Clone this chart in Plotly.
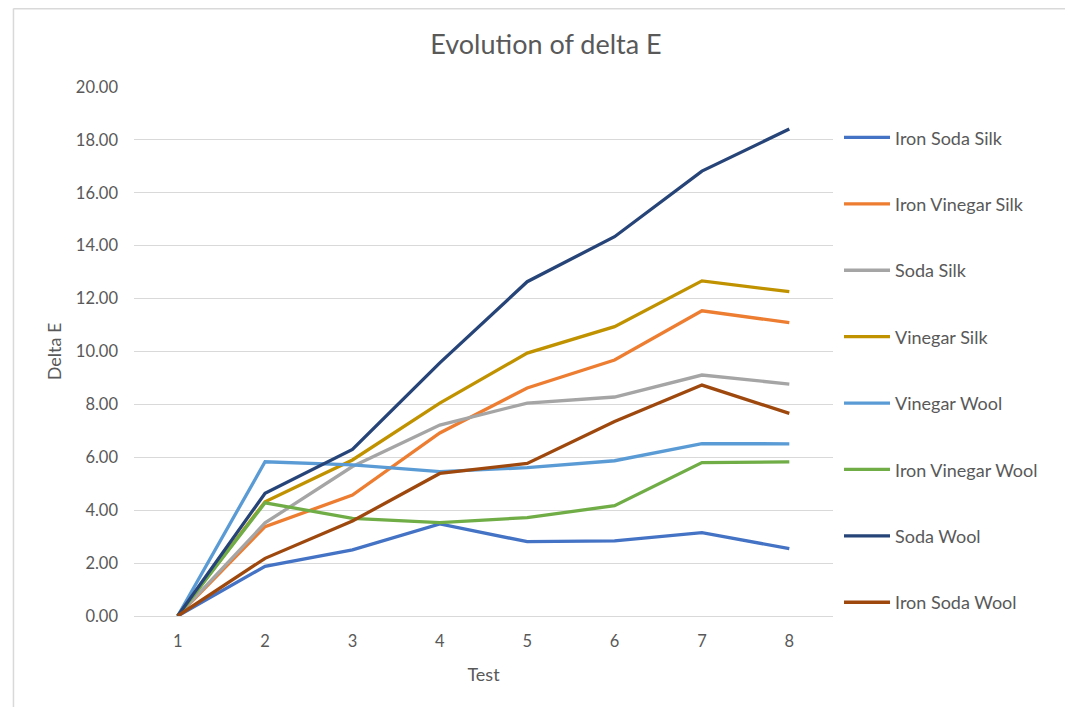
import plotly.graph_objects as go

tests = [1, 2, 3, 4, 5, 6, 7, 8]

iron_soda_silk = [0, 1.88, 2.50, 3.48, 2.81, 2.84, 3.15, 2.55]
iron_vinegar_silk = [0, 3.38, 4.57, 6.92, 8.62, 9.68, 11.54, 11.09]
soda_silk = [0, 3.52, 5.65, 7.22, 8.05, 8.28, 9.11, 8.77]
vinegar_silk = [0, 4.32, 5.90, 8.05, 9.94, 10.94, 12.67, 12.26]
vinegar_wool = [0, 5.83, 5.71, 5.46, 5.61, 5.87, 6.52, 6.51]
iron_vinegar_wool = [0, 4.28, 3.69, 3.53, 3.72, 4.17, 5.80, 5.83]
soda_wool = [0, 4.64, 6.30, 9.57, 12.64, 14.34, 16.82, 18.41]
iron_soda_wool = [0, 2.18, 3.59, 5.39, 5.77, 7.35, 8.73, 7.66]

series_names = ["Iron Soda Silk", "Iron Vinegar Silk", "Soda Silk", "Vinegar Silk",
                "Vinegar Wool", "Iron Vinegar Wool", "Soda Wool", "Iron Soda Wool"]
series_values = [iron_soda_silk, iron_vinegar_silk, soda_silk, vinegar_silk,
                 vinegar_wool, iron_vinegar_wool, soda_wool, iron_soda_wool]
colors = ["#4472C4", "#ED7D31", "#A5A5A5", "#C09200",
          "#5B9BD5", "#70AD47", "#264478", "#9E480E"]

FONT = "Lato, Open Sans, sans-serif"
TXT = "#595959"

fig = go.Figure()
for i, (name, vals, col) in enumerate(zip(series_names, series_values, colors)):
    fig.add_trace(go.Scatter(
        x=tests, y=vals, name=name, mode="lines",
        line=dict(color=col, width=3.3),
        legendgroup=f"g{i}",
    ))

PL, PR, PT, PB = 126.4, 824.6, 79, 608
fig.update_layout(
    width=1073, height=707,
    paper_bgcolor="white", plot_bgcolor="white",
    margin=dict(l=PL, r=1073 - PR, t=PT, b=707 - PB),
    font=dict(family=FONT, color=TXT, size=16),
    title=dict(text="Evolution of delta E", x=538/1073, xref="container", xanchor="center",
               y=1 - 37/707, yref="container", yanchor="middle",
               font=dict(size=27, color=TXT, family=FONT)),
    xaxis=dict(range=[0.5, 8.5], tickmode="array", tickvals=tests,
               ticktext=[str(t) for t in tests], showgrid=False, zeroline=False,
               showline=False, ticks="", tickfont=dict(size=16.5, color=TXT),
               ticklabelstandoff=13,
               title=dict(text="Test", font=dict(size=18, color=TXT), standoff=18)),
    yaxis=dict(range=[0, 20], dtick=2, tickformat=".2f", showgrid=True,
               gridcolor="#D9D9D9", gridwidth=1, zeroline=True, zerolinecolor="#D9D9D9",
               zerolinewidth=1, showline=False, ticks="", tickfont=dict(size=16.5, color=TXT),
               ticklabelstandoff=15,
               title=dict(text="Delta E", font=dict(size=18, color=TXT), standoff=9)),
    legend=dict(x=1.0086, xanchor="left", y=0.939, yanchor="top",
                font=dict(size=18, color=TXT), tracegroupgap=40, itemwidth=46,
                bgcolor="rgba(0,0,0,0)"),
    showlegend=True,
)

W = PR - PL
H = PB - PT
# chart-area frame lines (top and left)
fig.add_shape(type="line", xref="paper", yref="paper",
              x0=(6 - PL) / W, x1=1.5, y0=(PB - 0.5) / H, y1=(PB - 0.5) / H,
              line=dict(color="#D9D9D9", width=2))
fig.add_shape(type="line", xref="paper", yref="paper",
              x0=(6 - PL) / W, x1=(6 - PL) / W, y0=(PB - 0.5) / H, y1=-0.3,
              line=dict(color="#D9D9D9", width=1.5))

fig.write_html("out.html")
